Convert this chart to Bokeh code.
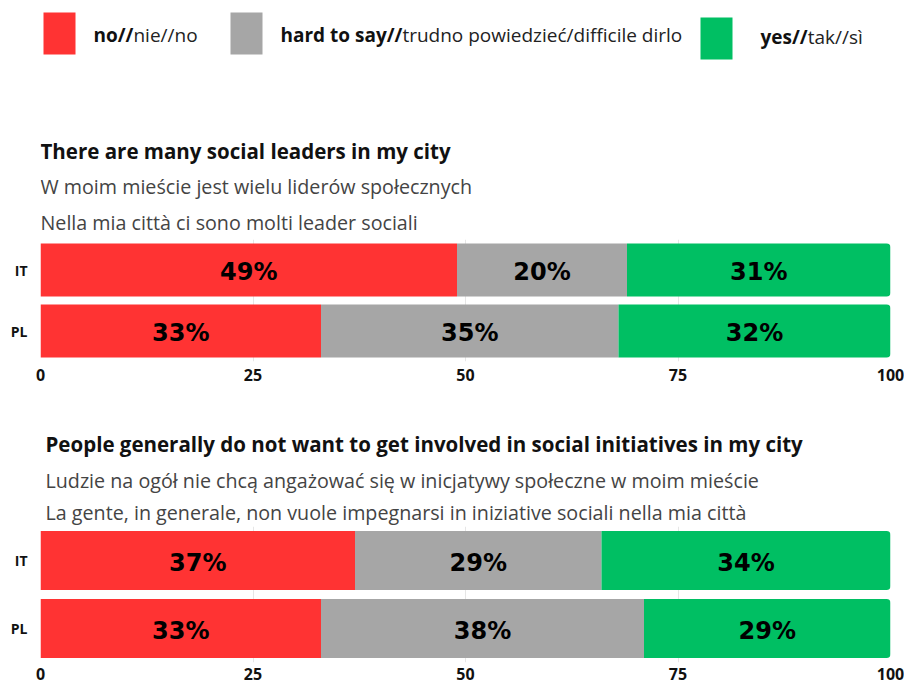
import subprocess
import numpy as np
from bokeh.plotting import figure
from bokeh.models import Range1d, FactorRange, FixedTicker
from bokeh.layouts import column
from bokeh.embed import file_html
from bokeh.resources import INLINE
from bokeh.core.properties import value

# ---------------- data ----------------
countries = ["IT", "PL"]
answer_colors = ["#FF3333", "#A6A6A6", "#00BF63"]
legend_bold = ["no//", "hard to say//", "yes//"]
legend_regular = ["nie//no", "trudno powiedzieć/difficile dirlo", "tak//sì"]

q1_title = ["There are many social leaders in my city",
            "W moim mieście jest wielu liderów społecznych",
            "Nella mia città ci sono molti leader sociali"]
q1_no = [49, 33]
q1_hard = [20, 35]
q1_yes = [31, 32]

q2_title = ["People generally do not want to get involved in social initiatives in my city",
            "Ludzie na ogół nie chcą angażować się w inicjatywy społeczne w moim mieście",
            "La gente, in generale, non vuole impegnarsi in iniziative sociali nella mia città"]
q2_no = [37, 33]
q2_hard = [29, 38]
q2_yes = [34, 29]

x_ticks = [0, 25, 50, 75, 100]

# ---------------- layout / style ----------------
W = 904
BORDER_L = 40
BORDER_R = 14
FRAME_W = W - BORDER_L - BORDER_R
PX = FRAME_W / 100.0          # pixels per percent unit on the shared x scale
FONT = "Open Sans"
BAR_FONT = "DejaVu Sans"
LEGEND_SIZE = 19


def measure(s, bold, size, fallback):
    """Width in px of a string in Open Sans (falls back to an estimate)."""
    try:
        from PIL import ImageFont
        style = "Bold" if bold else "Regular"
        path = subprocess.run(["fc-match", "-f", "%{file}", f"Open Sans:style={style}"],
                              capture_output=True, text=True, timeout=5).stdout.strip()
        font = ImageFont.truetype(path, size)
        try:
            axes = font.get_variation_axes()
            vals = []
            for ax in axes:
                name = ax.get("name", b"")
                name = name.decode() if isinstance(name, bytes) else str(name)
                if "eight" in name:
                    vals.append(700 if bold else 400)
                elif "idth" in name:
                    vals.append(100)
                else:
                    vals.append(ax.get("default", ax.get("minimum", 0)))
            font.set_variation_by_axes(vals)
        except Exception:
            pass
        w = font.getlength(s)
        if w > 0:
            return w
    except Exception:
        pass
    return fallback


def text_panel(height):
    p = figure(width=W, height=height, x_range=Range1d(0, 100), y_range=Range1d(height, 0),
               x_axis_type=None, y_axis_type=None, output_backend="svg",
               toolbar_location=None, min_border_left=BORDER_L, min_border_right=BORDER_R,
               min_border_top=0, min_border_bottom=0)
    p.grid.visible = False
    p.outline_line_color = None
    p.background_fill_color = "white"
    p.border_fill_color = "white"
    return p


def titles(p, lines, x0, ys):
    p.text(x=[x0], y=[ys[0]], text=[lines[0]], text_font=value(FONT), text_font_style="bold",
           text_font_size="20.5px", text_color="#111111", text_baseline="middle", text_align="left")
    p.text(x=[x0, x0], y=ys[1:], text=lines[1:], text_font=value(FONT), text_font_style="normal",
           text_font_size="19.7px", text_color="#444444", text_baseline="middle", text_align="left")


def bar_chart(no, hard, yes, height, bar_h, bottom, standoff):
    p = figure(width=W, height=height, y_range=FactorRange(factors=countries[::-1]),
               x_range=Range1d(0, 100), output_backend="svg", toolbar_location=None,
               min_border_left=BORDER_L, min_border_right=BORDER_R, min_border_top=0,
               min_border_bottom=bottom)
    p.outline_line_color = None
    p.background_fill_color = "white"
    p.border_fill_color = "white"
    no = np.array(no, dtype=float)
    hard = np.array(hard, dtype=float)
    yes = np.array(yes, dtype=float)
    lefts = [np.zeros_like(no), no, no + hard]
    rights = [no, no + hard, no + hard + yes]
    vals = [no, hard, yes]
    for i in range(3):
        radius = (0, 4, 4, 0) if i == 2 else 0
        p.hbar(y=countries, left=lefts[i], right=rights[i], height=bar_h,
               fill_color=answer_colors[i], line_color=None, border_radius=radius)
        p.text(x=(lefts[i] + rights[i]) / 2, y=countries,
               text=[f"{int(v)}%" for v in vals[i]], text_align="center", text_baseline="middle",
               text_font=value(BAR_FONT), text_font_style="bold", text_font_size="24px",
               text_color="#000000", y_offset=2)
    p.xaxis.ticker = FixedTicker(ticks=x_ticks)
    p.xgrid.ticker = FixedTicker(ticks=x_ticks)
    p.xgrid.grid_line_color = "#e6e6e6"
    p.ygrid.visible = False
    for ax in (p.xaxis[0], p.yaxis[0]):
        ax.axis_line_color = None
        ax.major_tick_line_color = None
        ax.minor_tick_line_color = None
        ax.major_tick_out = 0
        ax.major_tick_in = 0
        ax.minor_tick_out = 0
        ax.minor_tick_in = 0
        ax.major_label_text_font = FONT
        ax.major_label_text_font_style = "bold"
        ax.major_label_text_color = "#111111"
    p.xaxis.major_label_standoff = standoff
    p.xaxis.major_label_text_font_size = "16px"
    p.yaxis.major_label_standoff = 13
    p.yaxis.major_label_text_font_size = "14px"
    return p


def pct(px_from_frame_left):
    return px_from_frame_left / 8.5


# ---- panel A: legend + first question titles (page y 0..239) ----
pa = text_panel(239)
sw_left = [pct(3), pct(190), pct(660)]
sw_top = [12, 12, 17]
bold_x = [pct(53), pct(240), pct(720)]
lab_y = [34, 34, 36]
fallback_w = [37, 118, 47]
reg_x = [bx + measure(t, True, LEGEND_SIZE, fw) / PX
         for bx, t, fw in zip(bold_x, legend_bold, fallback_w)]
pa.quad(left=sw_left, right=[v + 32 / PX for v in sw_left], top=sw_top,
        bottom=[v + 42 for v in sw_top], fill_color=answer_colors, line_color=None)
pa.text(x=bold_x, y=lab_y, text=legend_bold, text_font=value(FONT), text_font_style="bold",
        text_font_size=f"{LEGEND_SIZE}px", text_color="#111111", text_baseline="middle",
        text_align="left")
pa.text(x=reg_x, y=lab_y, text=legend_regular,
        text_font=value(FONT), text_font_style="normal", text_font_size=f"{LEGEND_SIZE}px",
        text_color="#222222", text_baseline="middle", text_align="left")
titles(pa, q1_title, 0, [150, 186, 222])

# ---- panel B: first chart (frame page y 239..361) ----
pb = bar_chart(q1_no, q1_hard, q1_yes, 151, 0.869, 29, 7)

# ---- panel C: second question titles (page y 390..526) ----
pc = text_panel(136)
titles(pc, q2_title, pct(5), [53, 90, 122])

# ---- panel D: second chart (frame page y 526..662, axis labels below) ----
pd = bar_chart(q2_no, q2_hard, q2_yes, 160, 0.87, 24, 5)

layout = column(pa, pb, pc, pd, spacing=0)
open("out.html", "w").write(file_html(layout, INLINE))
